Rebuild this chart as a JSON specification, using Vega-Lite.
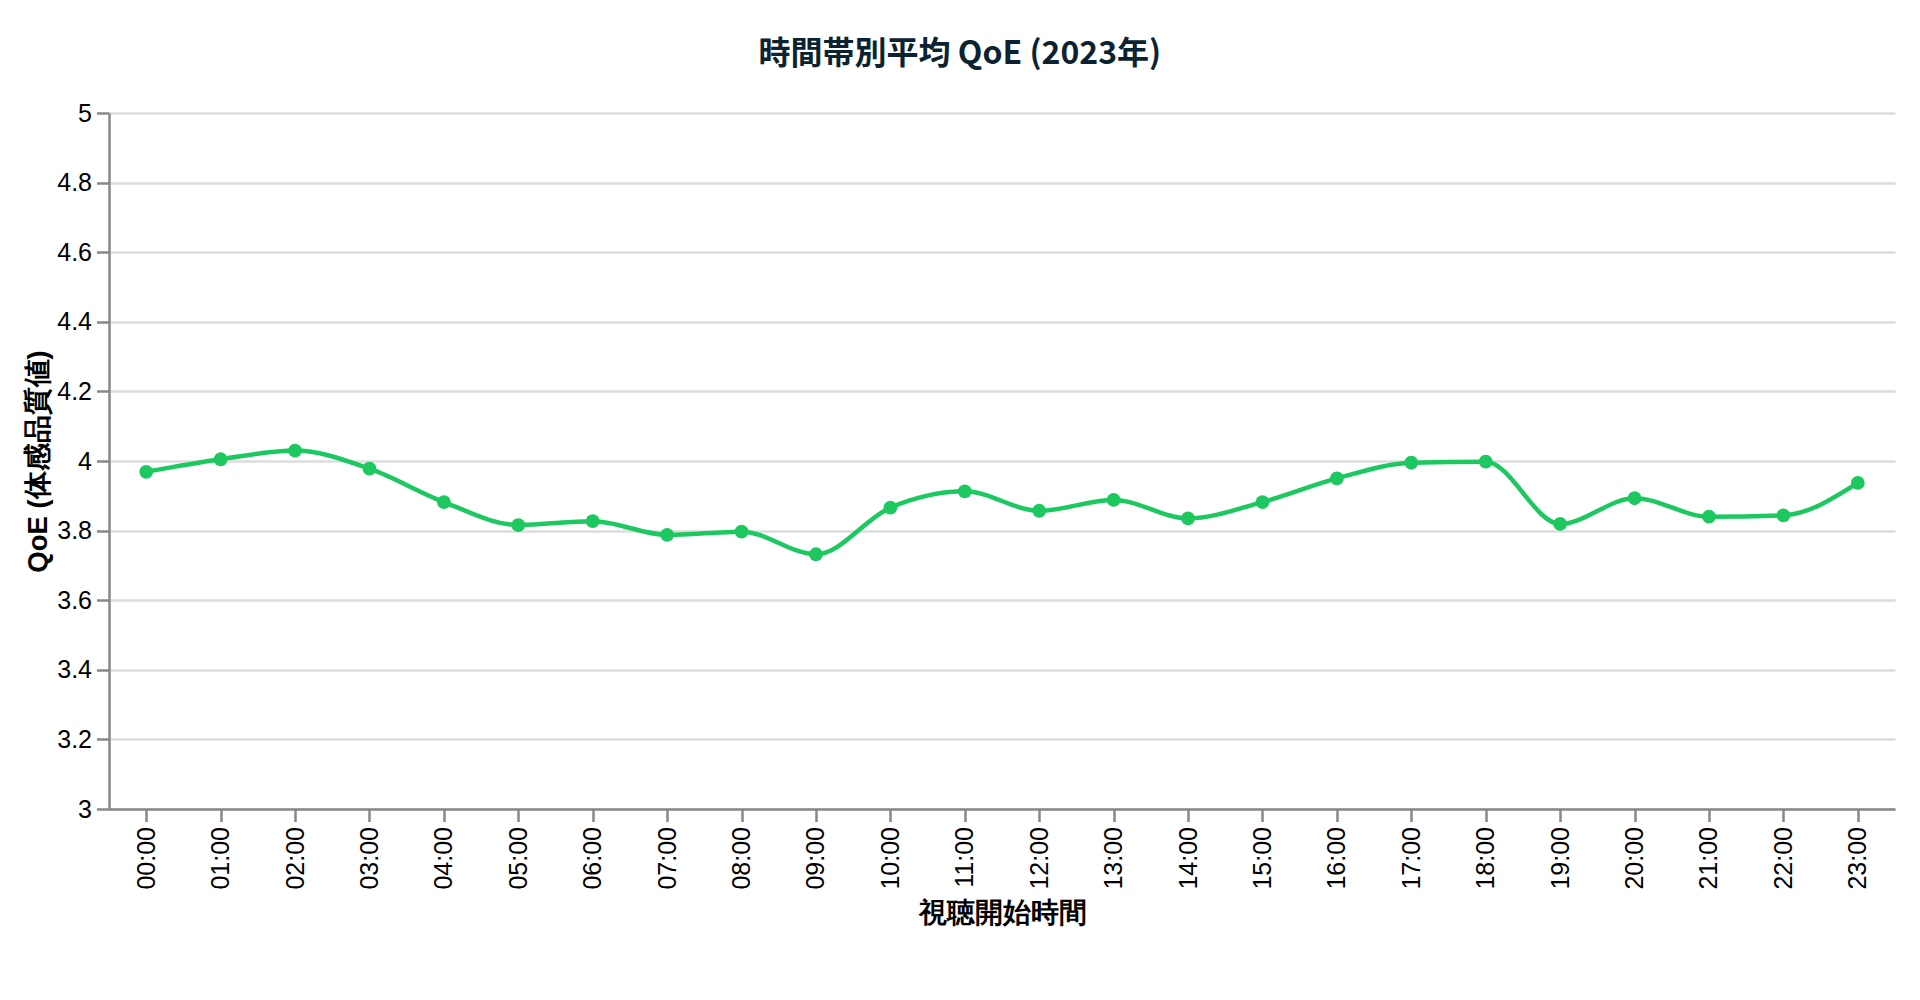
{
  "$schema": "https://vega.github.io/schema/vega-lite/v6.json",
  "description": "Hourly average QoE, 2023",
  "width": 1786,
  "height": 696,
  "padding": {"left": 24, "top": 37, "right": 20, "bottom": 10},
  "background": "white",
  "title": {
    "text": "時間帯別平均 QoE (2023年)",
    "font": "Noto Sans CJK JP",
    "fontSize": 32,
    "fontWeight": "bold",
    "color": "#0b2330",
    "frame": "bounds",
    "offset": 30.5
  },
  "data": {
    "values": [
      {"hour": "00:00", "qoe": 3.969},
      {"hour": "01:00", "qoe": 4.005},
      {"hour": "02:00", "qoe": 4.030},
      {"hour": "03:00", "qoe": 3.978},
      {"hour": "04:00", "qoe": 3.882},
      {"hour": "05:00", "qoe": 3.816},
      {"hour": "06:00", "qoe": 3.827},
      {"hour": "07:00", "qoe": 3.788},
      {"hour": "08:00", "qoe": 3.797},
      {"hour": "09:00", "qoe": 3.732},
      {"hour": "10:00", "qoe": 3.866},
      {"hour": "11:00", "qoe": 3.913},
      {"hour": "12:00", "qoe": 3.857},
      {"hour": "13:00", "qoe": 3.888},
      {"hour": "14:00", "qoe": 3.835},
      {"hour": "15:00", "qoe": 3.882},
      {"hour": "16:00", "qoe": 3.950},
      {"hour": "17:00", "qoe": 3.995},
      {"hour": "18:00", "qoe": 3.998},
      {"hour": "19:00", "qoe": 3.819},
      {"hour": "20:00", "qoe": 3.893},
      {"hour": "21:00", "qoe": 3.840},
      {"hour": "22:00", "qoe": 3.844},
      {"hour": "23:00", "qoe": 3.937}
    ]
  },
  "mark": {
    "type": "line",
    "interpolate": "monotone",
    "color": "#1dc860",
    "strokeWidth": 4.5,
    "point": {"filled": true, "size": 190, "color": "#1dc860"}
  },
  "encoding": {
    "x": {
      "field": "hour",
      "type": "nominal",
      "title": "視聴開始時間",
      "axis": {"labelAngle": -90}
    },
    "y": {
      "field": "qoe",
      "type": "quantitative",
      "title": "QoE (体感品質値)",
      "scale": {"domain": [3, 5], "zero": false},
      "axis": {"format": "~g", "tickCount": 10, "titlePadding": 4}
    }
  },
  "config": {
    "axis": {
      "labelFont": "Liberation Sans",
      "labelFontSize": 25,
      "labelColor": "#000",
      "labelPadding": 5,
      "titleFont": "Liberation Sans",
      "titleFontSize": 27.5,
      "titleFontWeight": "bold",
      "titleColor": "#000",
      "titlePadding": 10,
      "tickSize": 12.5,
      "tickWidth": 2.5,
      "tickColor": "#888",
      "domainWidth": 2.5,
      "domainColor": "#888",
      "gridWidth": 2.5,
      "gridColor": "#ddd"
    },
    "view": {"stroke": null}
  }
}
